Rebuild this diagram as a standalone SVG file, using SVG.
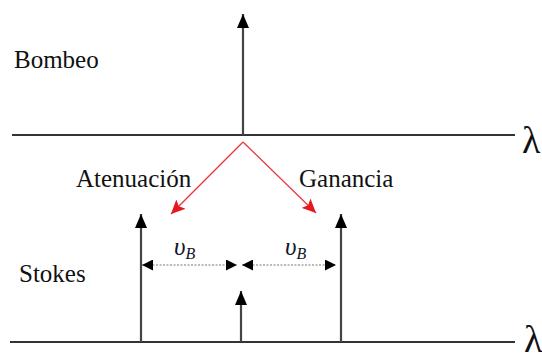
<svg xmlns="http://www.w3.org/2000/svg" width="542" height="353" viewBox="0 0 542 353">
<style>
.t{font-family:"Liberation Serif","Times New Roman",serif;font-size:25px;fill:#111}
.lam{font-family:"Liberation Serif","Times New Roman",serif;font-size:38px;fill:#111}
.nu{font-family:"Liberation Serif","Times New Roman",serif;font-style:italic;fill:#14142a}
.axis{stroke:#333;stroke-width:2;fill:none}
.spike{stroke:#444;stroke-width:2.2;fill:none;marker-end:url(#ah)}
.red{stroke:#e8333a;stroke-width:1.2;fill:none;marker-end:url(#rh)}
.dot{stroke:#777;stroke-width:1.2;stroke-dasharray:2 1.5;fill:none;marker-start:url(#dh);marker-end:url(#dh)}
</style>
<defs>
<marker id="ah" viewBox="0 0 14 12" refX="14" refY="6" markerWidth="14" markerHeight="12" markerUnits="userSpaceOnUse" orient="auto"><path d="M0,0 L14,6 L0,12 z" fill="#000"/></marker>
<marker id="rh" viewBox="0 0 14 13" refX="14" refY="6.5" markerWidth="14" markerHeight="13" markerUnits="userSpaceOnUse" orient="auto"><path d="M0,0 L14,6.5 L0,13 L3,6.5 z" fill="#e8161e"/></marker>
<marker id="dh" viewBox="0 0 11 11" refX="11" refY="5.5" markerWidth="11" markerHeight="11" markerUnits="userSpaceOnUse" orient="auto-start-reverse"><path d="M0,0 L11,5.5 L0,11 z" fill="#000"/></marker>
</defs>
<g id="connectors">
<line class="axis" x1="12" y1="135" x2="515" y2="135"/>
<line class="axis" x1="10" y1="342" x2="515" y2="342"/>
<line class="spike" x1="243" y1="135" x2="243" y2="14"/>
<line class="spike" x1="141" y1="342" x2="141" y2="214"/>
<line class="spike" x1="341" y1="342" x2="341" y2="214"/>
<line class="spike" x1="241" y1="342" x2="241" y2="291"/>
<polyline class="red" points="243,142 171,214"/>
<polyline class="red" points="243,142 316,213"/>
<line class="dot" x1="142" y1="265" x2="237" y2="265"/>
<line class="dot" x1="242" y1="265" x2="336" y2="265"/>
</g>
<g id="bombeo"><text class="t" x="14" y="68">Bombeo</text></g>
<g id="stokes"><text class="t" x="19" y="282">Stokes</text></g>
<g id="atenuacion"><text class="t" x="76" y="187">Atenuación</text></g>
<g id="ganancia"><text class="t" x="299" y="187">Ganancia</text></g>
<g id="lambda-top"><text class="lam" x="522" y="153">λ</text></g>
<g id="lambda-bottom"><text class="lam" x="524" y="352">λ</text></g>
<g id="nuB-left"><text class="nu" x="174" y="255" font-size="25">υ<tspan font-size="16" dy="4">B</tspan></text></g>
<g id="nuB-right"><text class="nu" x="285" y="255" font-size="25">υ<tspan font-size="16" dy="4">B</tspan></text></g>
</svg>
